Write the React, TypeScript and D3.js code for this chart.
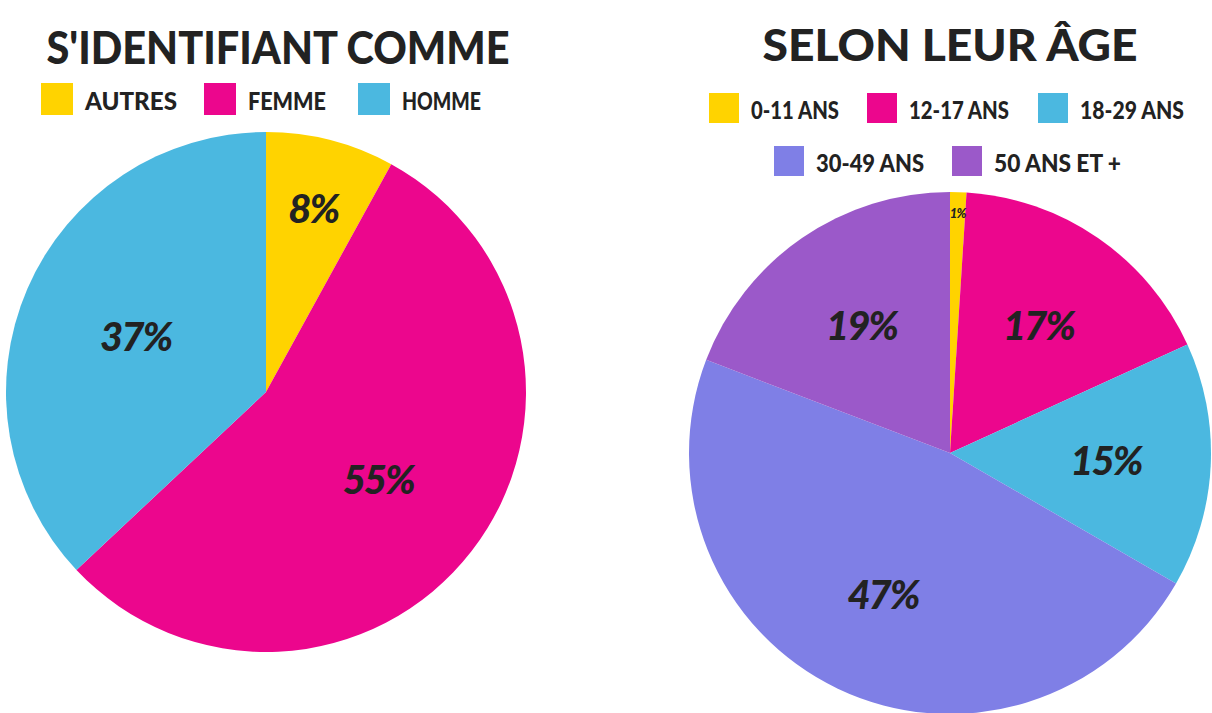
import React from 'react';
import * as d3 from 'd3';

// --- data ---
const GENDER_LABELS = ['AUTRES', 'FEMME', 'HOMME'];
const GENDER_VALUES = [8, 55, 37];
const GENDER_COLORS = ['#FFD300', '#EC068D', '#4BB8E0'];

const AGE_LABELS = ['0-11 ANS', '12-17 ANS', '18-29 ANS', '30-49 ANS', '50 ANS ET +'];
const AGE_VALUES = [1, 17, 15, 47, 19];
const AGE_COLORS = ['#FFD300', '#EC068D', '#4BB8E0', '#7F7FE6', '#9B59C9'];

const TEXT_COLOR = '#222222';
const FONT = "Lato, 'DejaVu Sans', sans-serif";

const WIDTH = 1212;
const HEIGHT = 713;

interface PieProps {
    cx: number
    cy: number
    radius: number
    labelRadius: number
    values: number[]
    colors: string[]
}

const Pie = (props: PieProps) => {
    const total = d3.sum(props.values);
    const pie = d3.pie<number>().sort(null).value(d => d);
    const arcs = pie(props.values);
    const arc = d3.arc<d3.PieArcDatum<number>>().innerRadius(0).outerRadius(props.radius);

    return (
        <g transform={`translate(${props.cx},${props.cy})`}>
            {arcs.map((a, i) => (
                <path key={'s' + i} d={arc(a)!} fill={props.colors[i]} />
            ))}
            {arcs.map((a, i) => {
                const share = a.value / total;
                // small slices get their label pushed out toward the rim
                const r = share < 0.03 ? props.radius * 0.92 : share < 0.1 ? props.radius * 0.73 : props.labelRadius;
                const labelArc = d3.arc<d3.PieArcDatum<number>>().innerRadius(r).outerRadius(r);
                const [x, y] = labelArc.centroid(a);
                const small = share < 0.03;
                return (
                    <text key={'l' + i} x={x} y={y}
                        textAnchor="middle" dominantBaseline="central"
                        fill={TEXT_COLOR} fontFamily={FONT} fontWeight={900}
                        fontSize={small ? 13 : 40}
                        fontStyle="italic"
                        letterSpacing={small ? -1 : -2}>
                        {a.value + '%'}
                    </text>
                );
            })}
        </g>
    );
};

interface LegendItem { x: number, y: number, label: string, color: string, textWidth: number }

const Legend = ({ items, size }: { items: LegendItem[], size: number }) => (
    <g>
        {items.map((it, i) => (
            <g key={i}>
                <rect x={it.x} y={it.y} width={size} height={size} fill={it.color} />
                <text x={it.x + size + 12} y={it.y + size / 2 + 1}
                    dominantBaseline="central" fill={TEXT_COLOR}
                    fontFamily={FONT} fontWeight={900} fontSize={24}
                    textLength={it.textWidth} lengthAdjust="spacingAndGlyphs">
                    {it.label}
                </text>
            </g>
        ))}
    </g>
);

const App = () => {
    const leftLegendX = [41, 204, 358];
    const leftTextW = [92, 78, 79];
    const leftLegend: LegendItem[] = GENDER_LABELS.map((l, i) => ({
        x: leftLegendX[i], y: 83, label: l, color: GENDER_COLORS[i], textWidth: leftTextW[i]
    }));

    const ageLegendPos = [[709, 93], [867, 93], [1038, 93], [774, 146], [952, 146]];
    const ageTextW = [88, 100, 104, 108, 127];
    const ageLegend: LegendItem[] = AGE_LABELS.map((l, i) => ({
        x: ageLegendPos[i][0], y: ageLegendPos[i][1], label: l, color: AGE_COLORS[i], textWidth: ageTextW[i]
    }));

    return (
        <svg width={WIDTH} height={HEIGHT}
            style={{ position: 'absolute', left: 0, top: 0, background: '#fff' }}>
            <text x={278} y={46} textAnchor="middle" dominantBaseline="central"
                fill={TEXT_COLOR} fontFamily={FONT} fontWeight={900} fontSize={46}
                textLength={463} lengthAdjust="spacingAndGlyphs">
                S'IDENTIFIANT COMME
            </text>
            <Legend items={leftLegend} size={32} />
            <Pie cx={266} cy={392} radius={260} labelRadius={142}
                values={GENDER_VALUES} colors={GENDER_COLORS} />

            <text x={950} y={44} textAnchor="middle" dominantBaseline="central"
                fill={TEXT_COLOR} fontFamily={FONT} fontWeight={900} fontSize={44}
                textLength={375} lengthAdjust="spacingAndGlyphs">
                SELON LEUR ÂGE
            </text>
            <Legend items={ageLegend} size={30} />
            <Pie cx={950} cy={453} radius={261} labelRadius={156}
                values={AGE_VALUES} colors={AGE_COLORS} />
        </svg>
    );
};

export default App;
